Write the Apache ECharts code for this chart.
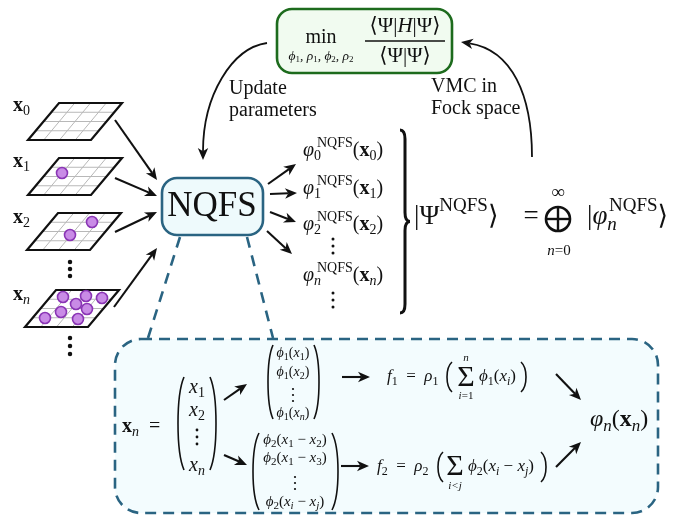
<!DOCTYPE html>
<html><head><meta charset="utf-8">
<script src="https://cdn.jsdelivr.net/npm/echarts@6/dist/echarts.min.js"></script>
<style>html,body{margin:0;padding:0;background:#fff}#c{width:688px;height:516px}</style>
</head><body><div id="c"></div>
<script>
// ---------- diagram data (in diagram units; axes map them to the canvas) ----------
const boxes = [[115,339,658,513,26],[277,9,452,73,15],[162,178,263,235,15]];
const connectors = [[180,237,148,338],[247,237,273,338]];
const lattices = [[59,103],[59,158],[58,213],[56,290]];
const particles = [[62,173],[92,222],[70,235],
  [63,297],[86,296],[102,298],[76,304],[87,309],[61,312],[45,318],[78,319]];
const ellipsisDots = [[70,262,4.5],[70,269,4.5],[70,276,4.5],[70,338,4.5],[70,346,4.5],[70,354,4.5],
  [333,239,3],[333,246,3],[333,253,3],[333,293,3],[333,300,3],[333,307,3],
  [197,430,2.8],[197,437,2.8],[197,444,2.8],
  [293,389,2.2],[293,395,2.2],[293,401,2.2],
  [295,477,2.2],[295,483,2.2],[295,489,2.2]];
const arrows = [
  [115,120,157,180],[115,178,157,196],[115,232,157,212],[114,307,157,248],
  [268,184,296,164],[270,194,297,193],[270,212,296,222],[267,231,292,254],
  [224,400,247,384],[224,455,247,465],[342,377,370,377],[341,466,369,466],
  [556,374,581,400],[556,467,581,442]];
const curvedArrows = [[267,43,232,48,203,95,203,160],[532,157,532,95,512,50,461,42]];
const parens = [[184,377,470,-1,6],[210,377,470,1,6],
  [273,345,419,-1,5],[314,345,419,1,5],
  [259,433,510,-1,6],[332,433,510,1,6],
  [452,362,392,-1,5],[521,362,392,1,5],
  [443,452,482,-1,5],[541,452,482,1,5]];
const braces = [[400,130,313,10]];
const oplus = [[558,219,12]];
const rules = [[365,41,445,41]];
const texts = [
  [321,38,20,'center','{r|min}'],
  [321,56,13.5,'center','{i|ϕ}{sb|1}{r|, }{i|ρ}{sb|1}{r|, }{i|ϕ}{sb|2}{r|, }{i|ρ}{sb|2}'],
  [405,26,21,'center','{r|⟨Ψ|}{i|H}{r||Ψ⟩}'],
  [405,56,21,'center','{r|⟨Ψ|Ψ⟩}'],
  [229,89,20,'left','{r|Update}'],
  [229,111,20,'left','{r|parameters}'],
  [431,87,20,'left','{r|VMC in}'],
  [431,109,20,'left','{r|Fock space}'],
  [212,207,35,'center','{r|NQFS}'],
  [13,106,20,'left','{b|x}{sb|0}'],
  [13,162,20,'left','{b|x}{sb|1}'],
  [13,218,20,'left','{b|x}{sb|2}'],
  [13,295,20,'left','{b|x}{si|n}'],
  [303,151,20,'left','{i|φ}{sb|0}'],[317,151,20,'left','{sp|NQFS}{r|(}{b|x}{sb|0}{r|)}'],
  [303,189,20,'left','{i|φ}{sb|1}'],[317,189,20,'left','{sp|NQFS}{r|(}{b|x}{sb|1}{r|)}'],
  [303,225,20,'left','{i|φ}{sb|2}'],[317,225,20,'left','{sp|NQFS}{r|(}{b|x}{sb|2}{r|)}'],
  [303,276,20,'left','{i|φ}{si|n}'],[317,276,20,'left','{sp|NQFS}{r|(}{b|x}{si|n}{r|)}'],
  [414,217,27,'left','{r||Ψ}{sp|NQFS}{r|⟩}'],
  [531,217,27,'center','{r|=}'],
  [558,193,19,'center','{r|∞}'],
  [559,251,15,'center','{i|n}{r|=0}'],
  [587,217,27,'left','{r||}{i|φ}{si|n}'],
  [609,217,27,'left','{sp|NQFS}{r|⟩}'],
  [122,427,20,'left','{b|x}{si|n}{r|  =}'],
  [197,388,20,'center','{i|x}{sb|1}'],
  [197,411,20,'center','{i|x}{sb|2}'],
  [197,466,20,'center','{i|x}{si|n}'],
  [293,353,14,'center','{i|ϕ}{sb|1}{r|(}{i|x}{sb|1}{r|)}'],
  [293,372,14,'center','{i|ϕ}{sb|1}{r|(}{i|x}{sb|2}{r|)}'],
  [293,413,14,'center','{i|ϕ}{sb|1}{r|(}{i|x}{si|n}{r|)}'],
  [295,440,15,'center','{i|ϕ}{sb|2}{r|(}{i|x}{sb|1}{r| − }{i|x}{sb|2}{r|)}'],
  [295,458,15,'center','{i|ϕ}{sb|2}{r|(}{i|x}{sb|1}{r| − }{i|x}{sb|3}{r|)}'],
  [295,502,15,'center','{i|ϕ}{sb|2}{r|(}{i|x}{si|i}{r| − }{i|x}{si|j}{r|)}'],
  [387,377,17,'left','{i|f}{sb|1}{r|  =  }{i|ρ}{sb|1}'],
  [466,378,30,'center','{r|Σ}'],
  [466,358,11,'center','{i|n}'],
  [466,396,11,'center','{i|i}{r|=1}'],
  [479,377,17,'left','{i|ϕ}{sb|1}{r|(}{i|x}{si|i}{r|)}'],
  [377,467,17,'left','{i|f}{sb|2}{r|  =  }{i|ρ}{sb|2}'],
  [455,467,30,'center','{r|Σ}'],
  [455,486,11,'center','{i|i<j}'],
  [468,467,17,'left','{i|ϕ}{sb|2}{r|(}{i|x}{si|i}{r| − }{i|x}{si|j}{r|)}'],
  [590,420,24,'left','{i|φ}{si|n}{r|(}{b|x}{si|n}{r|)}']
];

// ---------- styling ----------
const SERIF = '"Liberation Serif","DejaVu Serif",serif';
const TEAL = '#2a6482';
const INK = '#111111';
const boxLook = [
  {fill:'#f3fcfe', stroke:TEAL, lineWidth:2.6, lineDash:[11,7]},
  {fill:'#f1fbf0', stroke:'#1d6b1d', lineWidth:2.6},
  {fill:'#eefafc', stroke:TEAL, lineWidth:2.6}
];
function richFor(s){
  const base = {fontFamily:SERIF, fill:INK, verticalAlign:'middle'};
  const ss = Math.round(s*0.7);
  return {
    r:Object.assign({}, base, {fontSize:s}),
    i:Object.assign({}, base, {fontSize:s, fontStyle:'italic'}),
    b:Object.assign({}, base, {fontSize:s, fontWeight:'bold'}),
    sb:Object.assign({}, base, {fontSize:ss, padding:[s*0.57,0,0,0]}),
    si:Object.assign({}, base, {fontSize:ss, fontStyle:'italic', padding:[s*0.57,0,0,0]}),
    sp:Object.assign({}, base, {fontSize:Math.round(s*0.72), padding:[0,0,s*0.78,0]})
  };
}
function head(tip, ang, L, W){
  L = L || 12; W = W || 5.2;
  const c = Math.cos(ang), s = Math.sin(ang);
  const bx = tip[0]-L*c, by = tip[1]-L*s;
  const nx = -s, ny = c;
  const notch = [tip[0]-L*0.72*c, tip[1]-L*0.72*s];
  return {poly:{type:'polygon', shape:{points:[tip,[bx+nx*W,by+ny*W],notch,[bx-nx*W,by-ny*W]]}, style:{fill:INK}}, notch:notch};
}
const pts = a => a.map(p => [p[0], p[1]]);

const chart = echarts.init(document.getElementById('c'), null, {renderer:'canvas'});
chart.setOption({
  animation:false,
  backgroundColor:'#ffffff',
  grid:{left:0,right:0,top:0,bottom:0},
  xAxis:{type:'value',min:0,max:688,show:false},
  yAxis:{type:'value',min:0,max:516,inverse:true,show:false},
  series:[
    {type:'custom', z:1, data:pts(boxes), renderItem:(p, api) => {
      const b = boxes[p.dataIndex];
      const a = api.coord([b[0],b[1]]), c = api.coord([b[2],b[3]]);
      return {type:'rect', shape:{x:a[0],y:a[1],width:c[0]-a[0],height:c[1]-a[1],r:b[4]}, style:boxLook[p.dataIndex]};
    }},
    {type:'custom', z:2, data:pts(connectors), renderItem:(p, api) => {
      const l = connectors[p.dataIndex];
      const a = api.coord([l[0],l[1]]), c = api.coord([l[2],l[3]]);
      return {type:'line', shape:{x1:a[0],y1:a[1],x2:c[0],y2:c[1]}, style:{stroke:TEAL, lineWidth:2.6, lineDash:[11,8]}};
    }},
    {type:'custom', z:3, data:pts(lattices), renderItem:(p, api) => {
      const L = lattices[p.dataIndex];
      const w = 63, h = 37, sk = 31, n = 4;
      const P = (u, v) => api.coord([L[0] - sk*v + w*u, L[1] + h*v]);
      const ch = [];
      ch.push({type:'polygon', shape:{points:[P(0,0),P(1,0),P(1,1),P(0,1)]}, style:{fill:'#ffffff', stroke:null}});
      for (let k = 1; k < n; k++) {
        const f = k/n;
        const a = P(0,f), b = P(1,f), c = P(f,0), d = P(f,1);
        ch.push({type:'line', shape:{x1:a[0],y1:a[1],x2:b[0],y2:b[1]}, style:{stroke:'#b8b8b8', lineWidth:1}});
        ch.push({type:'line', shape:{x1:c[0],y1:c[1],x2:d[0],y2:d[1]}, style:{stroke:'#b8b8b8', lineWidth:1}});
      }
      ch.push({type:'polygon', shape:{points:[P(0,0),P(1,0),P(1,1),P(0,1)]}, style:{fill:null, stroke:INK, lineWidth:2.2, lineJoin:'miter'}});
      return {type:'group', children:ch};
    }},
    {type:'scatter', z:4, data:particles, symbol:'circle', symbolSize:11, silent:true,
      itemStyle:{color:'#c98be6', borderColor:'#8a35b5', borderWidth:1.6, opacity:1}},
    {type:'scatter', z:4, data:ellipsisDots, symbol:'circle', symbolSize:v => v[2], silent:true,
      itemStyle:{color:INK, opacity:1}},
    {type:'custom', z:5, data:pts(arrows), renderItem:(p, api) => {
      const l = arrows[p.dataIndex];
      const a = api.coord([l[0],l[1]]), c = api.coord([l[2],l[3]]);
      const hd = head(c, Math.atan2(c[1]-a[1], c[0]-a[0]));
      return {type:'group', children:[
        {type:'line', shape:{x1:a[0],y1:a[1],x2:hd.notch[0],y2:hd.notch[1]}, style:{stroke:INK, lineWidth:2.1}},
        hd.poly]};
    }},
    {type:'custom', z:5, data:curvedArrows.map(l => [l[0],l[1]]), renderItem:(p, api) => {
      const l = curvedArrows[p.dataIndex];
      const a = api.coord([l[0],l[1]]), c1 = api.coord([l[2],l[3]]), c2 = api.coord([l[4],l[5]]), e = api.coord([l[6],l[7]]);
      const hd = head(e, Math.atan2(e[1]-c2[1], e[0]-c2[0]));
      return {type:'group', children:[
        {type:'bezierCurve', shape:{x1:a[0],y1:a[1],cpx1:c1[0],cpy1:c1[1],cpx2:c2[0],cpy2:c2[1],x2:hd.notch[0],y2:hd.notch[1]}, style:{stroke:INK, lineWidth:1.8, fill:null}},
        hd.poly]};
    }},
    {type:'custom', z:5, data:parens.map(q => [q[0],q[1]]), renderItem:(p, api) => {
      const q = parens[p.dataIndex];
      const a = api.coord([q[0],q[1]]), b = api.coord([q[0],q[2]]);
      const h = b[1]-a[1], cx = a[0] + q[3]*q[4]*4/3;
      return {type:'bezierCurve', shape:{x1:a[0],y1:a[1],x2:b[0],y2:b[1],cpx1:cx,cpy1:a[1]+h*0.2,cpx2:cx,cpy2:b[1]-h*0.2}, style:{stroke:INK, lineWidth:1.6, fill:null}};
    }},
    {type:'custom', z:5, data:braces.map(q => [q[0],q[1]]), renderItem:(p, api) => {
      const q = braces[p.dataIndex];
      const t = api.coord([q[0],q[1]]), b = api.coord([q[0],q[2]]);
      const x0 = t[0], w = q[3], xm = x0 + w*0.5, y1 = t[1], y2 = b[1], m = (y1+y2)/2;
      const d = 'M'+x0+','+y1+' Q'+xm+','+y1+' '+xm+','+(y1+9)+' L'+xm+','+(m-9)+' Q'+xm+','+m+' '+(x0+w)+','+m+
        ' Q'+xm+','+m+' '+xm+','+(m+9)+' L'+xm+','+(y2-9)+' Q'+xm+','+y2+' '+x0+','+y2;
      return {type:'path', shape:{pathData:d}, style:{stroke:INK, lineWidth:3, fill:null}};
    }},
    {type:'custom', z:5, data:oplus.map(q => [q[0],q[1]]), renderItem:(p, api) => {
      const q = oplus[p.dataIndex];
      const c = api.coord([q[0],q[1]]), r = q[2];
      return {type:'group', children:[
        {type:'circle', shape:{cx:c[0],cy:c[1],r:r}, style:{stroke:INK, lineWidth:2.6, fill:null}},
        {type:'line', shape:{x1:c[0]-r,y1:c[1],x2:c[0]+r,y2:c[1]}, style:{stroke:INK, lineWidth:2.4}},
        {type:'line', shape:{x1:c[0],y1:c[1]-r,x2:c[0],y2:c[1]+r}, style:{stroke:INK, lineWidth:2.4}}]};
    }},
    {type:'custom', z:5, data:pts(rules), renderItem:(p, api) => {
      const l = rules[p.dataIndex];
      const a = api.coord([l[0],l[1]]), c = api.coord([l[2],l[3]]);
      return {type:'line', shape:{x1:a[0],y1:a[1],x2:c[0],y2:c[1]}, style:{stroke:INK, lineWidth:1.6}};
    }},
    {type:'custom', z:6, data:pts(texts), renderItem:(p, api) => {
      const t = texts[p.dataIndex];
      const c = api.coord([t[0],t[1]]);
      return {type:'text', x:c[0], y:c[1], style:{text:t[4], rich:richFor(t[2]), align:t[3], verticalAlign:'middle', fontSize:t[2], fontFamily:SERIF, fill:INK}};
    }}
  ]
});
</script></body></html>
